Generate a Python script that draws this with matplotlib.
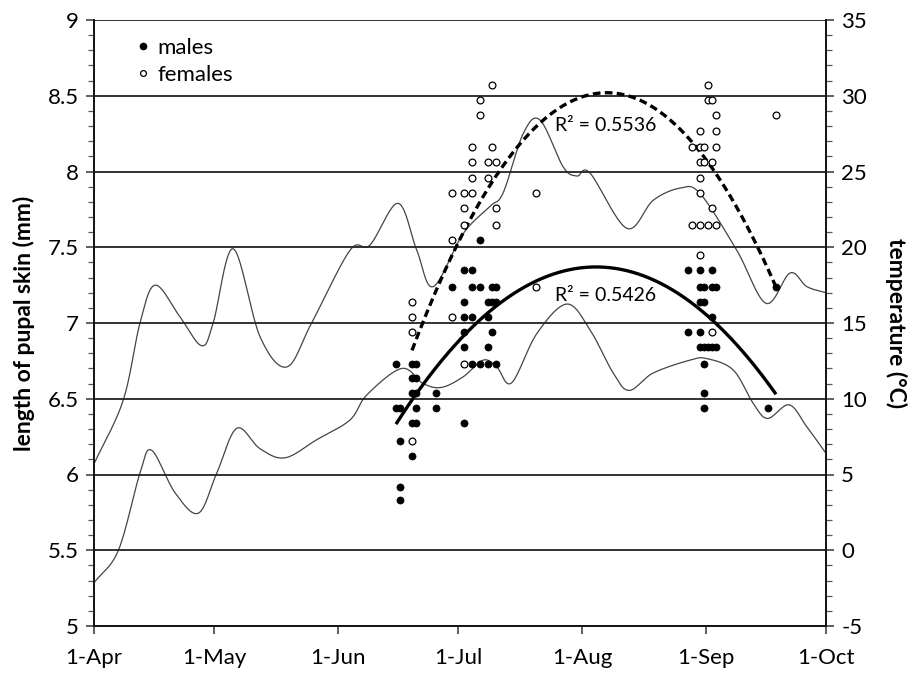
import numpy as np
import matplotlib
matplotlib.use("Agg")
import matplotlib.pyplot as plt
from matplotlib.ticker import MultipleLocator, FixedLocator
from matplotlib.lines import Line2D

plt.rcParams['font.family'] = ['Lato', 'DejaVu Sans']
plt.rcParams['axes.unicode_minus'] = False

# x values: days since 1 April
month_ticks = [0, 30, 61, 91, 122, 153, 183]
month_labels = ['1-Apr', '1-May', '1-Jun', '1-Jul', '1-Aug', '1-Sep', '1-Oct']

male_day = [75.5, 75.5, 76.5, 76.5, 76.5, 76.5,
            79.5, 80.5, 79.5, 80.5, 79.5, 80.5, 80.5, 79.5, 80.5, 79.5,
            85.5, 85.5,
            89.5, 92.5, 94.5, 94.5, 96.5, 99.5, 100.5,
            92.5, 98.5, 99.5, 100.5, 92.5, 94.5, 98.5, 92.5, 99.5, 92.5, 98.5,
            94.5, 96.5, 98.5, 100.5, 92.5, 96.5,
            148.5, 151.5, 154.5, 151.5, 152.5, 154.5, 155.5, 151.5, 152.5, 154.5,
            148.5, 151.5, 151.5, 152.5, 153.5, 154.5, 155.5, 152.5, 152.5, 152.5,
            168.5, 170.5]
male_len = [6.73, 6.44, 6.44, 6.22, 5.92, 5.83,
            6.73, 6.73, 6.64, 6.64, 6.54, 6.54, 6.44, 6.34, 6.34, 6.12,
            6.54, 6.44,
            7.24, 7.35, 7.35, 7.24, 7.24, 7.24, 7.24,
            7.14, 7.14, 7.14, 7.14, 7.04, 7.04, 7.04, 6.94, 6.94, 6.84, 6.84,
            6.73, 6.73, 6.73, 6.73, 6.34, 7.55,
            7.35, 7.35, 7.35, 7.24, 7.24, 7.24, 7.24, 7.14, 7.14, 7.04,
            6.94, 6.94, 6.84, 6.84, 6.84, 6.84, 6.84, 6.73, 6.54, 6.44,
            6.44, 7.24]

female_day = [79.5, 79.5, 79.5, 79.5,
              99.5, 96.5, 96.5, 94.5, 99.5, 94.5, 98.5, 100.5, 94.5, 98.5,
              89.5, 92.5, 94.5, 92.5, 100.5, 92.5, 100.5, 89.5, 89.5, 92.5,
              110.5, 110.5,
              153.5, 153.5, 154.5, 155.5, 151.5, 155.5, 149.5, 151.5, 152.5, 155.5,
              151.5, 152.5, 154.5, 151.5, 151.5, 154.5, 149.5, 151.5, 153.5, 155.5,
              151.5, 154.5, 170.5]
female_len = [7.14, 7.04, 6.94, 6.22,
              8.57, 8.47, 8.37, 8.16, 8.16, 8.06, 8.06, 8.06, 7.96, 7.96,
              7.86, 7.86, 7.86, 7.76, 7.76, 7.65, 7.65, 7.55, 7.04, 6.73,
              7.86, 7.24,
              8.57, 8.47, 8.47, 8.37, 8.27, 8.27, 8.16, 8.16, 8.16, 8.16,
              8.06, 8.06, 8.06, 7.96, 7.86, 7.76, 7.65, 7.65, 7.65, 7.65,
              7.45, 6.94, 8.37]

# quadratic trendlines: [peak day, peak length, curvature]
male_fit = [125.5, 7.37, -4.15e-4]
female_fit = [128.2, 8.52, -7.17e-4]
r2_female = 'R² = 0.5536'
r2_male = 'R² = 0.5426'

# temperature curves (deg C)
tmax_day = [0, 7.3, 11.5, 15.3, 21.5, 26.9, 29.8, 34.8, 41.5, 48.2, 54.4, 64, 69,
            76, 80.7, 84.8, 92.3, 99, 102.3, 107.3, 111.5, 117.3, 120.7, 124,
            133.2, 139.8, 146.5, 151.5, 160.7, 168, 174, 178.2, 183]
tmax_val = [5.7, 9.9, 15.0, 17.5, 15.4, 13.5, 15.0, 19.9, 14.1, 12.1, 15.0, 19.8, 20.15,
            22.9, 19.8, 17.4, 20.9, 22.7, 23.6, 27.5, 28.4, 25.3, 24.7, 24.9,
            21.25, 23.1, 23.9, 23.55, 19.8, 16.3, 18.3, 17.4, 17.0]
tmin_day = [0, 6.1, 11.5, 14.4, 20.25, 26.1, 30.7, 35.7, 41.5, 47.75, 55.7, 64, 68.2,
            76.9, 82.3, 86.9, 92.3, 97.3, 100.7, 104.4, 110.7, 118.2, 124,
            129.8, 133.8, 139.8, 149, 153.2, 159.8, 164.8, 168.4, 173.8, 178.2, 183]
tmin_val = [-2.15, 0.0, 5.1, 6.6, 3.8, 2.45, 5.1, 8.05, 6.7, 6.1, 7.3, 8.6, 10.25,
            12.0, 11.0, 10.75, 11.45, 12.55, 12.1, 11.05, 14.3, 16.25, 14.55,
            11.7, 10.55, 11.7, 12.55, 12.65, 11.9, 9.7, 8.7, 9.6, 8.15, 6.4]


def smooth(x, y, n=24):
    """Excel-like smoothed line (Catmull-Rom through the given points)."""
    x = np.asarray(x, float)
    y = np.asarray(y, float)
    px = np.concatenate([[2 * x[0] - x[1]], x, [2 * x[-1] - x[-2]]])
    py = np.concatenate([[2 * y[0] - y[1]], y, [2 * y[-1] - y[-2]]])
    xs, ys = [], []
    t = np.linspace(0, 1, n, endpoint=False)
    for i in range(1, len(px) - 2):
        p0, p1, p2, p3 = px[i - 1], px[i], px[i + 1], px[i + 2]
        q0, q1, q2, q3 = py[i - 1], py[i], py[i + 1], py[i + 2]
        c1x, c1y = p1 + (p2 - p0) / 6, q1 + (q2 - q0) / 6
        c2x, c2y = p2 - (p3 - p1) / 6, q2 - (q3 - q1) / 6
        bx = (1 - t) ** 3 * p1 + 3 * (1 - t) ** 2 * t * c1x + 3 * (1 - t) * t ** 2 * c2x + t ** 3 * p2
        by = (1 - t) ** 3 * q1 + 3 * (1 - t) ** 2 * t * c1y + 3 * (1 - t) * t ** 2 * c2y + t ** 3 * q2
        xs.extend(bx)
        ys.extend(by)
    xs.append(x[-1])
    ys.append(y[-1])
    return np.array(xs), np.array(ys)


fig = plt.figure(figsize=(9.15, 6.73), dpi=100)
ax = fig.add_axes([94 / 915, 1 - 626 / 673, 732 / 915, 606 / 673])
ax2 = ax.twinx()

ax.set_xlim(0, 183)
ax.set_ylim(5, 9)
ax.yaxis.set_major_locator(MultipleLocator(0.5))
ax.yaxis.set_minor_locator(MultipleLocator(0.1))
ax.yaxis.set_major_formatter(plt.FuncFormatter(lambda v, p: f'{v:g}'))
ax.xaxis.set_major_locator(FixedLocator(month_ticks))
ax.set_xticklabels(month_labels)
for v in np.arange(5.5, 9.01, 0.5):
    ax.axhline(v, color='#222222', lw=1.3, zorder=1)

ax2.set_ylim(-5, 35)
ax2.yaxis.set_major_locator(MultipleLocator(5))
ax2.yaxis.set_minor_locator(MultipleLocator(1))

for a in (ax, ax2):
    a.spines['top'].set_visible(False)
    for s in ('left', 'right', 'bottom'):
        a.spines[s].set_color('#111111')
        a.spines[s].set_linewidth(1.2)
    a.tick_params(axis='both', which='major', direction='out', length=6, width=1.1,
                  color='#333333', labelsize=16, pad=5)
    a.tick_params(axis='y', which='minor', direction='out', length=4, width=0.9, color='#555555')
ax.tick_params(axis='x', pad=10)

ax.set_ylabel('length of pupal skin (mm)', fontsize=16.5, fontweight='bold', labelpad=9)
ax2.set_ylabel('temperature (°C)', fontsize=16.5, fontweight='bold', rotation=-90, labelpad=29)

sx, sy = smooth(tmax_day, tmax_val)
ax2.plot(sx, sy, color='#444444', lw=0.9, zorder=2)
sx, sy = smooth(tmin_day, tmin_val)
ax2.plot(sx, sy, color='#444444', lw=0.9, zorder=2)

ax.set_zorder(ax2.get_zorder() + 1)
ax.patch.set_visible(False)

md = np.array(male_day)
ml = np.array(male_len)
fd = np.array(female_day)
fl = np.array(female_len)

ax.scatter(md, ml, s=26, c='black', edgecolors='black', linewidths=0.5, zorder=4)
ax.scatter(fd, fl, s=24, facecolors='white', edgecolors='black', linewidths=0.9, zorder=4)


def quad(fit, x):
    return fit[1] + fit[2] * (x - fit[0]) ** 2


xm = np.linspace(md.min(), md.max(), 200)
ax.plot(xm, quad(male_fit, xm), color='black', lw=2.4, zorder=3, solid_capstyle='butt')
xf = np.linspace(fd.min(), fd.max(), 200)
ax.plot(xf, quad(female_fit, xf), color='black', lw=2.4, ls=(0, (2.3, 1.3)), zorder=3)

ax.text(115.3, 8.305, r2_female, fontsize=14, va='center', ha='left')
ax.text(115.3, 7.18, r2_male, fontsize=14, va='center', ha='left')

handles = [Line2D([], [], ls='none', marker='o', ms=4.5, mfc='black', mec='black'),
           Line2D([], [], ls='none', marker='o', ms=4.2, mfc='white', mec='black', mew=0.9)]
ax.legend(handles, ['males', 'females'], loc='upper left', bbox_to_anchor=(0.03, 0.993),
          frameon=False, fontsize=16, handletextpad=0.05, handlelength=1.2,
          labelspacing=0.32, borderaxespad=0.2)

fig.savefig('out.png', dpi=100)
